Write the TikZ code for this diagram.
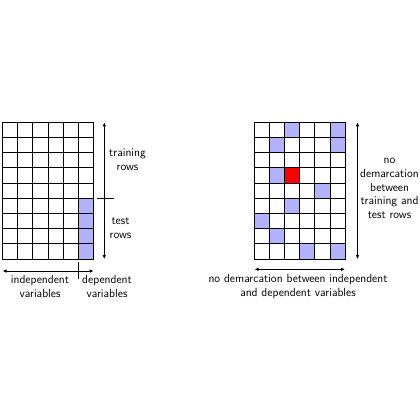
\documentclass[tikz,border=0pt]{standalone}
\usetikzlibrary{arrows.meta}
\tikzset{
  gridline/.style={line width=0.9pt,line cap=rect},
  dep/.style={fill=blue!30},
  hot/.style={fill=red},
  dimline/.style={line width=0.9pt,{Latex[length=4pt,width=3.5pt]}-{Latex[length=4pt,width=3.5pt]}},
  tickline/.style={line width=0.9pt},
  lbl/.style={font=\sffamily\fontsize{11.8}{13.7}\selectfont,align=center,inner sep=0pt}
}
\begin{document}
\begin{tikzpicture}[x=1pt,y=-1pt]
\useasboundingbox (0,0) rectangle (420,420);
% left grid
\begin{scope}[shift={(2.5,122.3)},x=15.2pt,y=-15.2pt]
  \foreach \r in {5,...,8} \fill[dep] (5,\r) rectangle (6,\r+1);
  \foreach \c in {0,...,6} \draw[gridline] (\c,0) -- (\c,9);
  \foreach \r in {0,...,9} \draw[gridline] (0,\r) -- (6,\r);
\end{scope}
% right grid
\begin{scope}[shift={(254,122.3)},x=15.2pt,y=-15.2pt]
  \foreach \c/\r in {2/0,5/0,1/1,5/1,1/3,4/4,2/5,0/6,1/7,3/8,5/8}
    \fill[dep] (\c,\r) rectangle (\c+1,\r+1);
  \fill[hot] (2,3) rectangle (3,4);
  \foreach \c in {0,...,6} \draw[gridline] (\c,0) -- (\c,9);
  \foreach \r in {0,...,9} \draw[gridline] (0,\r) -- (6,\r);
\end{scope}
% left vertical dimension
\coordinate (lvT) at (104.3,122.3);
\coordinate (lvB) at (104.3,259.1);
\coordinate (lvS1) at (96.7,198.3);
\coordinate (lvS2) at (114,198.3);
\draw[dimline] (lvT) -- (lvB);
\draw[tickline] (lvS1) -- (lvS2);
\node[lbl] (train) at (127.5,160) {training\\rows};
\node[lbl] (test) at (120.5,228) {test\\rows};
% left horizontal dimension
\coordinate (lhL) at (2.5,271);
\coordinate (lhR) at (93.7,271);
\coordinate (lhS1) at (78.5,261.7);
\coordinate (lhS2) at (78.5,279);
\draw[dimline] (lhL) -- (lhR);
\draw[tickline] (lhS1) -- (lhS2);
\node[lbl] (indep) at (40,286.5) {independent\\variables};
\node[lbl] (dept) at (107,286.5) {dependent\\variables};
% right vertical dimension
\coordinate (rvT) at (357.5,122.3);
\coordinate (rvB) at (357.5,259.1);
\draw[dimline] (rvT) -- (rvB);
\node[lbl] (nodemrows) at (389.5,188.5) {no\\demarcation\\between\\training and\\test rows};
% right horizontal dimension
\coordinate (rhL) at (254.5,269.3);
\coordinate (rhR) at (345,269.3);
\draw[dimline] (rhL) -- (rhR);
\node[lbl] (nodemvars) at (298,286.5) {no demarcation between independent\\and dependent variables};
\end{tikzpicture}
\end{document}
